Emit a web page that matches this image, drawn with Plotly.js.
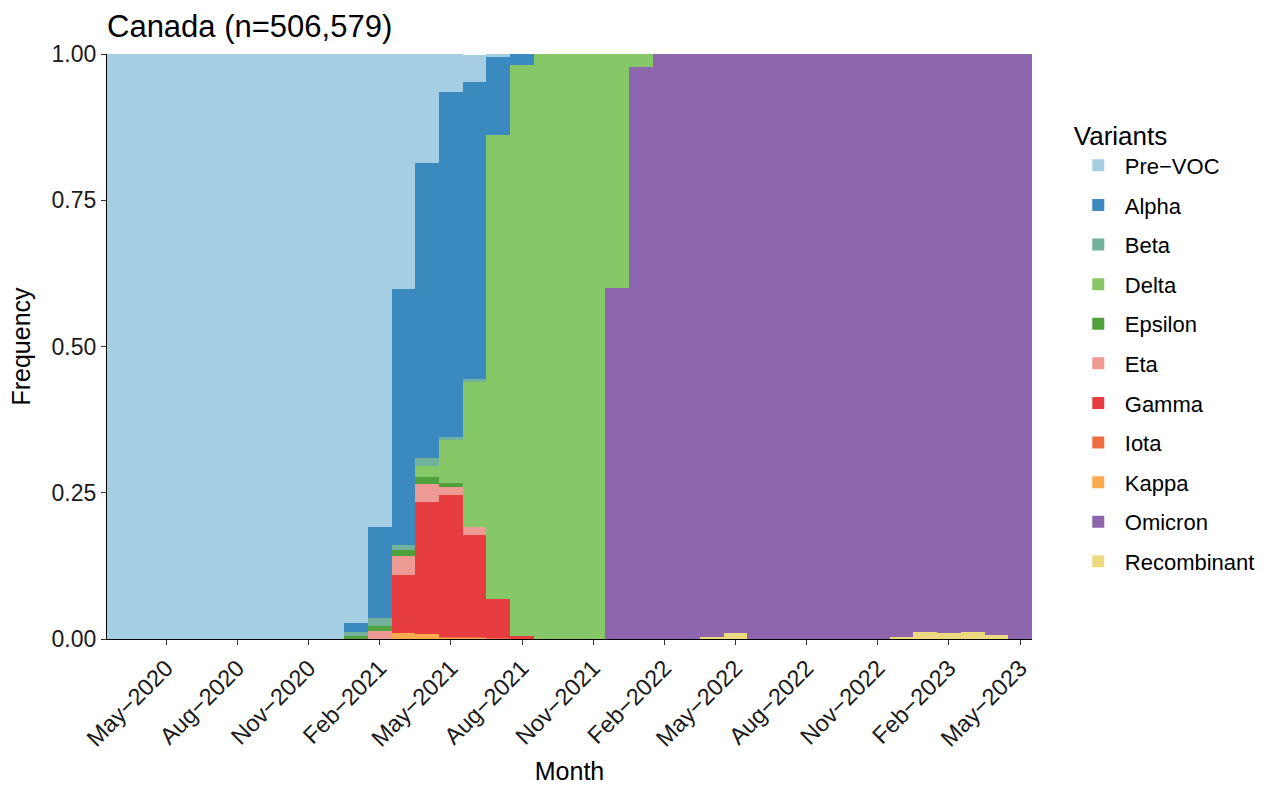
<!DOCTYPE html>
<html>
<head>
<meta charset="utf-8">
<script src="https://cdn.plot.ly/plotly-3.0.1.min.js"></script>
<style>html,body{margin:0;padding:0;background:#fff;}#chart{width:1270px;height:790px;}</style>
</head>
<body>
<div id="chart"></div>
<script>
// Months: Mar-2020 (index 0) to May-2023 (index 38)
const months = ["Mar-2020","Apr-2020","May-2020","Jun-2020","Jul-2020","Aug-2020","Sep-2020","Oct-2020","Nov-2020","Dec-2020",
  "Jan-2021","Feb-2021","Mar-2021","Apr-2021","May-2021","Jun-2021","Jul-2021","Aug-2021","Sep-2021","Oct-2021","Nov-2021","Dec-2021",
  "Jan-2022","Feb-2022","Mar-2022","Apr-2022","May-2022","Jun-2022","Jul-2022","Aug-2022","Sep-2022","Oct-2022","Nov-2022","Dec-2022",
  "Jan-2023","Feb-2023","Mar-2023","Apr-2023","May-2023"];
const monthIndex = months.map((m, i) => i);

const tickIndex = [2,5,8,11,14,17,20,23,26,29,32,35,38];
const tickLabels = ["May\u22122020","Aug\u22122020","Nov\u22122020","Feb\u22122021","May\u22122021","Aug\u22122021","Nov\u22122021",
  "Feb\u22122022","May\u22122022","Aug\u22122022","Nov\u22122022","Feb\u22122023","May\u22122023"];

const preVOC      = [1,1,1,1,1,1,1,1,1,1, 0.972,0.809,0.402,0.186,0.065,0.047,0.005,0, 0,0,0,0, 0,0,0,0,0,0,0,0,0,0,0,0, 0,0,0,0,0];
const alpha       = [0,0,0,0,0,0,0,0,0,0, 0.016,0.155,0.438,0.504,0.589,0.507,0.133,0.019, 0,0,0,0, 0,0,0,0,0,0,0,0,0,0,0,0, 0,0,0,0,0];
const beta        = [0,0,0,0,0,0,0,0,0,0, 0.007,0.014,0.009,0.015,0.0045,0.006,0,0, 0,0,0,0, 0,0,0,0,0,0,0,0,0,0,0,0, 0,0,0,0,0];
const delta       = [0,0,0,0,0,0,0,0,0,0, 0,0,0,0.018,0.0735,0.247,0.794,0.976, 1,1,1,0.40, 0.023,0,0,0,0,0,0,0,0,0,0,0, 0,0,0,0,0];
const epsilon     = [0,0,0,0,0,0,0,0,0,0, 0.005,0.009,0.010,0.012,0.0085,0,0,0, 0,0,0,0, 0,0,0,0,0,0,0,0,0,0,0,0, 0,0,0,0,0];
const eta         = [0,0,0,0,0,0,0,0,0,0, 0,0.013,0.033,0.030,0.013,0.014,0,0, 0,0,0,0, 0,0,0,0,0,0,0,0,0,0,0,0, 0,0,0,0,0];
const gamma       = [0,0,0,0,0,0,0,0,0,0, 0,0,0.098,0.227,0.242,0.175,0.067,0.005, 0,0,0,0, 0,0,0,0,0,0,0,0,0,0,0,0, 0,0,0,0,0];
const iota        = [0,0,0,0,0,0,0,0,0,0, 0,0,0,0,0.001,0.001,0.001,0, 0,0,0,0, 0,0,0,0,0,0,0,0,0,0,0,0, 0,0,0,0,0];
const kappa       = [0,0,0,0,0,0,0,0,0,0, 0,0,0.011,0.008,0.003,0.002,0,0, 0,0,0,0, 0,0,0,0,0,0,0,0,0,0,0,0, 0,0,0,0,0];
const omicron     = [0,0,0,0,0,0,0,0,0,0, 0,0,0,0,0,0,0,0, 0,0,0,0.60, 0.977,1,1,0.996,0.990,1,1,1,1,1,1,0.996, 0.9875,0.990,0.9875,0.994,1];
const recombinant = [0,0,0,0,0,0,0,0,0,0, 0,0,0,0,0,0,0,0, 0,0,0,0, 0,0,0,0.004,0.010,0,0,0,0,0,0,0.004, 0.0125,0.010,0.0125,0.006,0];

const variantNames = ["Pre\u2212VOC","Alpha","Beta","Delta","Epsilon","Eta","Gamma","Iota","Kappa","Omicron","Recombinant"];
const variantValues = [preVOC, alpha, beta, delta, epsilon, eta, gamma, iota, kappa, omicron, recombinant];
const variantColors = ["#A6CEE3","#3A89BF","#72B19C","#86C767","#50A03C","#EC9A93","#E73D41","#EF6C45","#FCAA4F","#8D66AD","#EDD97F"];

const traces = [];
// bottom of stack first: Recombinant ... Pre-VOC on top
for (let k = variantNames.length - 1; k >= 0; k--) {
  traces.push({
    type: "bar",
    name: variantNames[k],
    legendgroup: variantNames[k],
    legendrank: k + 1,
    x: monthIndex,
    y: variantValues[k],
    marker: {color: variantColors[k], line: {width: 0}},
    hovertemplate: variantNames[k] + ": %{y:.3f}<extra></extra>"
  });
}

const font = "Arial, 'Liberation Sans', sans-serif";
const layout = {
  width: 1270, height: 790,
  margin: {l: 107, r: 238, t: 54, b: 151, autoexpand: false},
  barmode: "stack",
  bargap: 0,
  paper_bgcolor: "#ffffff",
  plot_bgcolor: "#ffffff",
  font: {family: font, color: "#000000"},
  title: {
    text: "Canada (n=506,579)",
    font: {family: font, size: 31, color: "#000000"},
    x: 107/1270, xanchor: "left", xref: "container",
    y: 1 - 26/790, yanchor: "middle", yref: "container"
  },
  xaxis: {
    range: [-0.5, 38.5],
    tickmode: "array",
    tickvals: tickIndex,
    ticktext: tickLabels,
    tickangle: -45,
    tickfont: {family: font, size: 23.5, color: "#1a1a1a"},
    ticks: "outside", ticklen: 5, tickwidth: 1.2, tickcolor: "#333333",
    showline: true, linecolor: "#000000", linewidth: 1.2,
    showgrid: false, zeroline: false,
    title: {text: "Month", font: {family: font, size: 25, color: "#000000"}, standoff: 12}
  },
  yaxis: {
    range: [0, 1],
    tickmode: "array",
    tickvals: [0, 0.25, 0.5, 0.75, 1],
    ticktext: ["0.00","0.25","0.50","0.75","1.00"],
    tickfont: {family: font, size: 23, color: "#1a1a1a"},
    ticks: "outside", ticklen: 5, tickwidth: 1.2, tickcolor: "#333333",
    showline: true, linecolor: "#000000", linewidth: 1.2,
    showgrid: false, zeroline: false,
    title: {text: "Frequency", font: {family: font, size: 25, color: "#000000"}, standoff: 13}
  },
  legend: {
    title: {text: "Variants", font: {family: font, size: 26, color: "#000000"}},
    font: {family: font, size: 22, color: "#000000"},
    traceorder: "grouped",
    tracegroupgap: 8,
    itemwidth: 43,
    x: 1.043, xanchor: "left",
    y: 0.903, yanchor: "top",
    bgcolor: "rgba(0,0,0,0)"
  },
  showlegend: true
};

Plotly.newPlot("chart", traces, layout, {displayModeBar: false, staticPlot: false});
</script>
</body>
</html>
